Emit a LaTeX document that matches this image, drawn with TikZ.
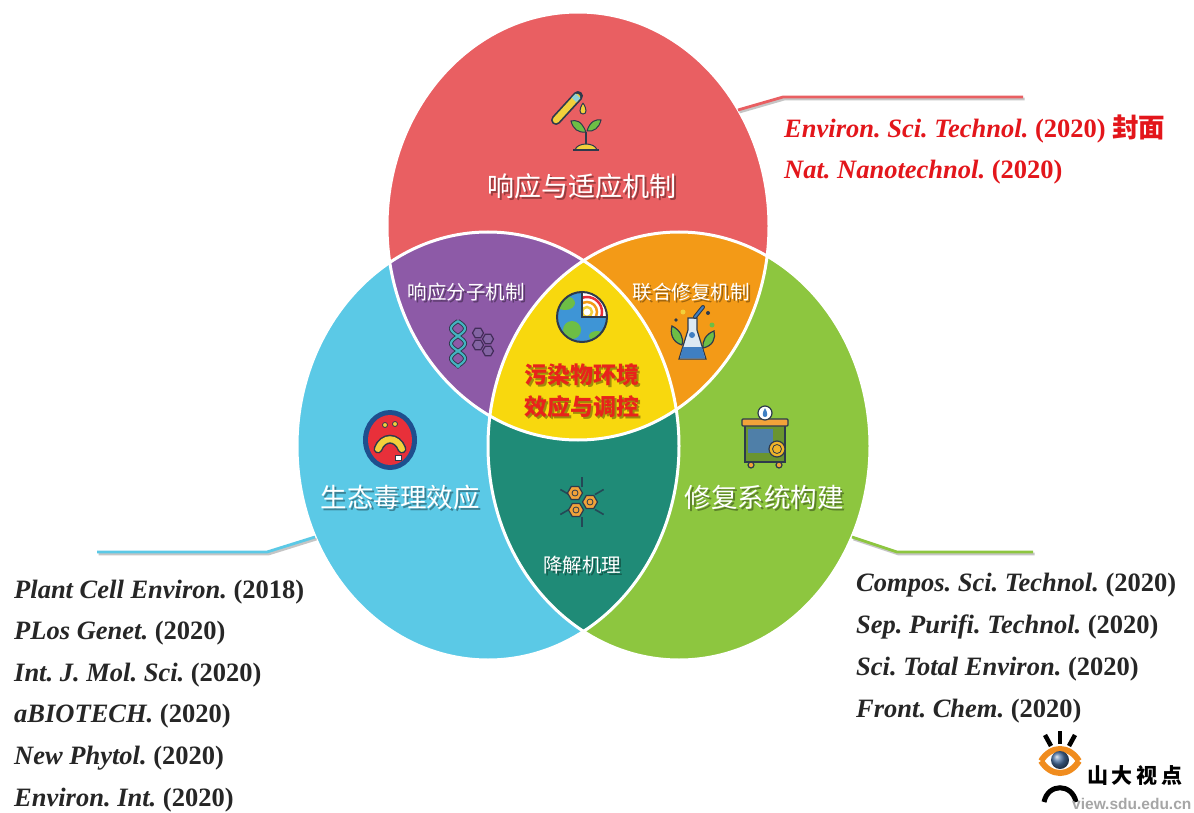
\documentclass[tikz,border=0pt]{standalone}
\usepackage{fontspec}
\setmainfont{Liberation Serif}
\newfontfamily\cjk{Noto Sans CJK SC}
\newfontfamily\wmcjk[LetterSpace=18]{Noto Sans CJK SC}
\newfontfamily\wmfont{Liberation Sans}
\usetikzlibrary{calc}
\frenchspacing

\definecolor{vennred}{HTML}{E95F62}
\definecolor{vennblue}{HTML}{5BC9E6}
\definecolor{venngreen}{HTML}{8DC63F}
\definecolor{vennpurple}{HTML}{8D5AA7}
\definecolor{vennorange}{HTML}{F39A17}
\definecolor{vennteal}{HTML}{1F8B77}
\definecolor{vennyellow}{HTML}{F8D80E}
\definecolor{refred}{HTML}{E3161B}
\definecolor{corered}{HTML}{E8231B}
\definecolor{icondark}{HTML}{2D3A4C}
\definecolor{tubeyellow}{HTML}{F2D03B}
\definecolor{leafgreen}{HTML}{6DBE45}
\definecolor{globeblue}{HTML}{3E95D6}
\definecolor{dnateal}{HTML}{43B4C0}
\definecolor{hexpurple}{HTML}{6E4A94}
\definecolor{flaskblue}{HTML}{3F7FC2}
\definecolor{flaskwhite}{HTML}{DCE9F3}
\definecolor{ringblue}{HTML}{1E4F8E}
\definecolor{cellred}{HTML}{E8303A}
\definecolor{coingold}{HTML}{F0B429}
\definecolor{barorange}{HTML}{F2A33A}
\definecolor{machineblue}{HTML}{4F7FA8}
\definecolor{wmorange}{HTML}{F08C1E}

\tikzset{
  lobe/.style={x radius=191pt, y radius=214pt},
  rim/.style={draw=white, line width=3pt},
  lbl/.style={text=white, inner sep=0pt},
  lblshadow/.style={text=black, opacity=0.35, inner sep=0pt},
  ref/.style={anchor=base west, inner sep=0pt, font=\fontsize{26.5}{30}\selectfont},
  callout/.style={line width=2.8pt},
  icon/.style={draw=icondark, line width=1.2pt},
}

% white label with a soft drop shadow
\newcommand{\vlabel}[4]{%
  \node[lblshadow, font=#3] (#1-sh) at ($(#2)+(2,2)$) {#4};
  \node[lbl, font=#3] (#1) at (#2) {#4};}

\begin{document}
\begin{tikzpicture}[x=1pt,y=-1pt]
  \useasboundingbox (0,0) rectangle (1194,813);
  \fill[white] (0,0) rectangle (1194,813);

  \coordinate (cr) at (578,226);
  \coordinate (cb) at (488,446);
  \coordinate (cg) at (679,446);

  % the three sets
  \fill[vennred]   (cr) ellipse[lobe];
  \fill[vennblue]  (cb) ellipse[lobe];
  \fill[venngreen] (cg) ellipse[lobe];
  \begin{scope}
    \clip (cb) ellipse[lobe];
    \fill[vennteal] (cg) ellipse[lobe];
  \end{scope}
  \begin{scope}
    \clip (cr) ellipse[lobe];
    \fill[vennpurple] (cb) ellipse[lobe];
    \fill[vennorange] (cg) ellipse[lobe];
    \clip (cb) ellipse[lobe];
    \fill[vennyellow] (cg) ellipse[lobe];
  \end{scope}
  \path[rim] (cr) ellipse[lobe];
  \path[rim] (cb) ellipse[lobe];
  \path[rim] (cg) ellipse[lobe];

  % callout lines
  \coordinate (red-a) at (738,110);  \coordinate (red-b) at (783,97);  \coordinate (red-c) at (1023,97);
  \coordinate (blue-a) at (315,537); \coordinate (blue-b) at (267,552); \coordinate (blue-c) at (97,552);
  \coordinate (green-a) at (852,537); \coordinate (green-b) at (897,552); \coordinate (green-c) at (1033,552);
  \begin{scope}[transform canvas={shift={(1.5pt,-2pt)}}]
    \draw[callout, black!45, opacity=0.5] (red-a) -- (red-b) -- (red-c);
    \draw[callout, black!45, opacity=0.5] (blue-a) -- (blue-b) -- (blue-c);
    \draw[callout, black!45, opacity=0.5] (green-a) -- (green-b) -- (green-c);
  \end{scope}
  \draw[callout, vennred]   (red-a) -- (red-b) -- (red-c);
  \draw[callout, vennblue]  (blue-a) -- (blue-b) -- (blue-c);
  \draw[callout, venngreen] (green-a) -- (green-b) -- (green-c);

  % region labels
  \vlabel{resp}{582,186}{\fontsize{27}{30}\selectfont\cjk}{响应与适应机制}
  \vlabel{eco}{400,497}{\fontsize{26.5}{30}\selectfont\cjk}{生态毒理效应}
  \vlabel{repair}{764,497}{\fontsize{26.5}{30}\selectfont\cjk}{修复系统构建}
  \vlabel{mol}{466,292}{\fontsize{19.5}{24}\selectfont\cjk}{响应分子机制}
  \vlabel{joint}{691,292}{\fontsize{19.5}{24}\selectfont\cjk}{联合修复机制}
  \vlabel{degr}{582,565}{\fontsize{19.5}{24}\selectfont\cjk}{降解机理}
  \node[lblshadow, align=center, font=\fontsize{23}{32}\selectfont\cjk\bfseries] (core-sh) at (584,393) {污染物环境\\效应与调控};
  \node[text=corered, inner sep=0pt, align=center, font=\fontsize{23}{32}\selectfont\cjk\bfseries] (core) at (582,391) {污染物环境\\效应与调控};

  % icon: test tube and sprout
  \draw[icondark, line width=10pt, line cap=round] (556,120) -- (578,96);
  \draw[tubeyellow, line width=6.5pt, line cap=round] (556,120) -- (577,97);
  \draw[dnateal!60, line width=6.5pt] (574,100) -- (578,96);
  \draw[icon, fill=tubeyellow, line width=1pt] (583,103) .. controls (579,109) and (579,114) .. (583,114) .. controls (587,114) and (587,109) .. (583,103);
  \draw[icon, fill=leafgreen, line width=1pt] (586,132) .. controls (581,120) and (576,120) .. (571,121) .. controls (573,129) and (578,133) .. (586,132);
  \draw[icon, fill=leafgreen, line width=1pt] (587,131) .. controls (590,121) and (596,119) .. (601,120) .. controls (599,128) and (594,132) .. (587,131);
  \draw[icondark, line width=1.5pt] (586,132) -- (586,144);
  \draw[icon, fill=tubeyellow, line width=1pt] (575,150) .. controls (577,142) and (595,142) .. (597,150) -- cycle;
  \draw[icondark, line width=1.8pt] (573,150) -- (599,150);

  % icon: globe with radar
  \begin{scope}
    \clip (582,317) circle[radius=25pt];
    \fill[globeblue] (582,317) circle[radius=25pt];
    \fill[leafgreen] (565,303) ellipse[x radius=10pt, y radius=7pt];
    \fill[leafgreen] (572,330) ellipse[x radius=9pt, y radius=9pt];
    \fill[leafgreen] (597,336) ellipse[x radius=8pt, y radius=5pt];
    \clip (582,292) rectangle (608,317);
    \fill[white] (582,292) rectangle (608,317);
    \draw[cellred, line width=2.5pt] (587,312) circle[radius=15pt];
    \draw[vennorange, line width=2.5pt] (587,312) circle[radius=10pt];
    \draw[tubeyellow, line width=2.5pt] (587,312) circle[radius=5pt];
  \end{scope}
  \draw[icondark, line width=1.5pt] (582,292) -- (582,317) -- (607,317);
  \draw[icondark, line width=2pt] (582,317) circle[radius=25pt];

  % icon: DNA and molecules
  \draw[icondark, line width=4pt, domain=0:46, samples=40, smooth] plot ({458+7*sin(12*\x)}, {321+\x});
  \draw[icondark, line width=4pt, domain=0:46, samples=40, smooth] plot ({458-7*sin(12*\x)}, {321+\x});
  \draw[dnateal, line width=2.2pt, domain=0:46, samples=40, smooth] plot ({458+7*sin(12*\x)}, {321+\x});
  \draw[dnateal, line width=2.2pt, domain=0:46, samples=40, smooth] plot ({458-7*sin(12*\x)}, {321+\x});
  \foreach \hx/\hy in {478/333, 488/339, 478/345, 488/351}
    \draw[hexpurple!60!black, fill=hexpurple!85, line width=1.2pt] (\hx,\hy) +(0:5.5) -- +(60:5.5) -- +(120:5.5) -- +(180:5.5) -- +(240:5.5) -- +(300:5.5) -- cycle;

  % icon: flask with leaves
  \draw[icon, fill=leafgreen] (682,345) .. controls (672,342) and (670,333) .. (672,326) .. controls (680,330) and (684,337) .. (682,345);
  \draw[icon, fill=leafgreen] (703,348) .. controls (713,346) and (716,338) .. (714,331) .. controls (706,334) and (702,341) .. (703,348);
  \draw[icon, fill=flaskwhite] (688,318) -- (697,318) -- (697,330) -- (706,359) -- (679,359) -- (688,330) -- cycle;
  \fill[flaskblue] (683,347) -- (702,347) -- (705,358) -- (680,358) -- cycle;
  \fill[flaskblue] (692,335) circle[radius=3pt];
  \draw[icondark, line width=4pt, line cap=round] (695,317) -- (703,307);
  \draw[flaskblue, line width=2pt, line cap=round] (695,317) -- (703,307);
  \fill[tubeyellow] (683,312) circle[radius=2.5pt];
  \fill[icondark] (708,313) circle[radius=2pt];
  \fill[leafgreen] (712,325) circle[radius=2.5pt];
  \fill[icondark] (676,320) circle[radius=1.8pt];

  % icon: cell
  \fill[ringblue] (390,440) ellipse[x radius=27pt, y radius=30pt];
  \fill[cellred] (390,440) ellipse[x radius=22pt, y radius=25pt];
  \draw[icondark, line width=9pt, line cap=round] (378,449) .. controls (383,436) and (397,436) .. (402,449);
  \draw[tubeyellow, line width=6pt, line cap=round] (378,449) .. controls (383,436) and (397,436) .. (402,449);
  \draw[icon, fill=tubeyellow, line width=0.8pt] (385,425) circle[radius=2.5pt];
  \draw[icon, fill=tubeyellow, line width=0.8pt] (395,424) circle[radius=2.5pt];
  \draw[icon, fill=white, line width=0.8pt] (395,455) rectangle (401,460);

  % icon: remediation unit
  \draw[icon, fill=venngreen!75!black] (745,425) rectangle (785,462);
  \fill[machineblue] (748,429) rectangle (773,453);
  \draw[icon, fill=barorange, rounded corners=1pt] (742,419) rectangle (788,426);
  \draw[icon, fill=white] (765,413) circle[radius=7pt];
  \fill[flaskblue] (765,408) .. controls (762,413) and (762,417) .. (765,417) .. controls (768,417) and (768,413) .. (765,408);
  \draw[icon, fill=coingold] (777,449) circle[radius=8pt];
  \draw[icondark, line width=0.8pt] (777,449) circle[radius=4.5pt];
  \draw[icon, fill=barorange] (751,465) circle[radius=3pt];
  \draw[icon, fill=barorange] (779,465) circle[radius=3pt];

  % icon: degrading cluster
  \foreach \a in {0,60,...,300}
    \draw[icondark!80!teal, line width=1.6pt] (582,502) ++(\a+30:15) -- ++(\a+30:10);
  \foreach \hx/\hy in {575/493, 590/502, 576/510}
    \draw[icondark, fill=barorange, line width=1.2pt] (\hx,\hy) +(0:7.5) -- +(60:7.5) -- +(120:7.5) -- +(180:7.5) -- +(240:7.5) -- +(300:7.5) -- cycle;
  \foreach \hx/\hy in {575/493, 590/502, 576/510}
    \draw[icondark, line width=0.8pt] (\hx,\hy) circle[radius=3pt];

  % references
  \node[ref, text=refred] (top-1) at (784,138) {\textbf{\textit{Environ. Sci. Technol.}} \textbf{(2020)} {\cjk\bfseries 封面}};
  \node[ref, text=refred] (top-2) at (784,179) {\textbf{\textit{Nat. Nanotechnol.}} \textbf{(2020)}};
  \foreach \jn/\yr [count=\i] in {{Plant Cell Environ.}/2018, {PLos Genet.}/2020, {Int. J. Mol. Sci.}/2020, {aBIOTECH.}/2020, {New Phytol.}/2020, {Environ. Int.}/2020}
    \node[ref, text=black!85] (west-\i) at (14,{598+41.6*(\i-1)}) {\textbf{\textit{\jn}} \textbf{(\yr)}};
  \foreach \jn/\yr [count=\i] in {{Compos. Sci. Technol.}/2020, {Sep. Purifi. Technol.}/2020, {Sci. Total Environ.}/2020, {Front. Chem.}/2020}
    \node[ref, text=black!85] (east-\i) at (856,{591+42.3*(\i-1)}) {\textbf{\textit{\jn}} \textbf{(\yr)}};

  % watermark
  \draw[black, line width=4.5pt] (1060,731) -- (1060,744);
  \draw[black, line width=4.5pt] (1045,735) -- (1051,746);
  \draw[black, line width=4.5pt] (1075,735) -- (1069,746);
  \draw[wmorange, line width=6pt] (1041,761) .. controls (1051,745) and (1069,745) .. (1079,761);
  \draw[wmorange, line width=6pt] (1041,761) .. controls (1051,777) and (1069,777) .. (1079,761);
  \shade[ball color=ringblue!80!white] (1060,760) circle[radius=9pt];
  \draw[black, line width=5pt] (1044,802) .. controls (1048,783) and (1072,783) .. (1076,802);
  \node[anchor=west, inner sep=0pt, font=\fontsize{21}{24}\selectfont\wmcjk\bfseries] (wm) at (1087,776) {山大视点};
  \node[anchor=west, inner sep=0pt, text=black!35, font=\fontsize{15.5}{18}\selectfont\wmfont\bfseries] (wm-url) at (1072,804) {view.sdu.edu.cn};
\end{tikzpicture}
\end{document}
